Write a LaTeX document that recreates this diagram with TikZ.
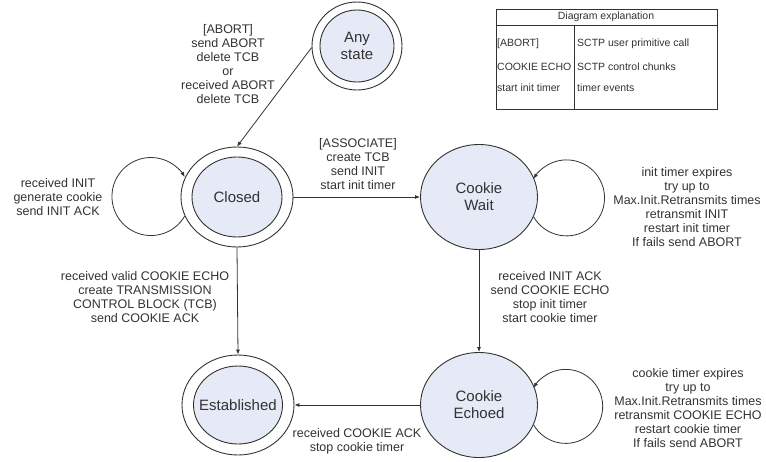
\documentclass[tikz,border=0pt]{standalone}
\usepackage{fontspec}
\setmainfont{Liberation Sans}
\usetikzlibrary{shapes.geometric, arrows.meta}
\definecolor{statefill}{RGB}{230,234,246}
\definecolor{ink}{RGB}{50,50,50}
\begin{document}
\begin{tikzpicture}[x=1pt,y=1pt,
  outerring/.style={ellipse, draw=ink, line width=0.9pt, fill=white, inner sep=0pt},
  innerstate/.style={ellipse, draw=ink, line width=0.9pt, fill=statefill, inner sep=0pt},
  statetext/.style={align=center, text=ink, inner sep=0pt, font=\fontsize{15}{17}\selectfont},
  singlestate/.style={ellipse, draw=ink, line width=0.9pt, fill=statefill, inner sep=0pt, align=center, text=ink, font=\fontsize{15}{17}\selectfont, minimum width=117pt, minimum height=105pt},
  lbl/.style={align=center, text=ink, font=\fontsize{12.5}{14}\selectfont, inner sep=0pt},
  tbl/.style={text=ink, font=\fontsize{10.5}{12}\selectfont, inner sep=0pt, anchor=west},
  arr/.style={draw=ink, line width=0.8pt, -{Latex[length=5pt,width=4pt]}}
]
\useasboundingbox (0,0) rectangle (766,-461);

% states
\node[outerring, minimum width=90pt, minimum height=88pt] (anystate) at (357,-46) {};
\node[innerstate, minimum width=74pt, minimum height=72pt] (anystatein) at (357,-46) {};
\node[statetext] (anystatetxt) at (357,-46) {Any\\state};

\node[outerring, minimum width=112pt, minimum height=100pt] (closed) at (237,-197) {};
\node[innerstate, minimum width=90pt, minimum height=80pt] (closedin) at (237,-197) {};
\node[statetext] (closedtxt) at (237,-197) {Closed};

\node[outerring, minimum width=112pt, minimum height=100pt] (est) at (238,-405) {};
\node[innerstate, minimum width=89pt, minimum height=78pt] (estin) at (238,-405) {};
\node[statetext] (esttxt) at (238,-405) {Established};

\node[singlestate] (wait) at (479,-197) {Cookie\\Wait};
\node[singlestate] (echoed) at (479,-405) {Cookie\\Echoed};

% connectors
\draw[arr] (anystate.182) -- (closed.north);
\draw[arr] (closed.east) -- (wait.west);
\draw[arr] (wait.south) -- (echoed.north);
\draw[arr] (closed.south) -- (est.north);
\draw[arr] (echoed.west) -- (est.east);

% self loops
\draw[arr] (closed.200) arc[start angle=-30, end angle=-330, radius=39];
\draw[arr] (wait.-20) arc[start angle=-150, end angle=150, radius=38];
\draw[arr] (echoed.-20) arc[start angle=-150, end angle=150, radius=37];

% labels
\node[lbl] (abortlbl) at (228,-64) {[ABORT]\\send ABORT\\delete TCB\\or\\received ABORT\\delete TCB};
\node[lbl] (initlbl) at (58,-197) {received INIT\\generate cookie\\send INIT ACK};
\node[lbl] (assoclbl) at (358,-164) {[ASSOCIATE]\\create TCB\\send INIT\\start init timer};
\node[lbl] (waitlooplbl) at (687,-207) {init timer expires\\try up to\\Max.Init.Retransmits times\\retransmit INIT\\restart init timer\\If fails send ABORT};
\node[lbl] (initacklbl) at (550,-297) {received INIT ACK\\send COOKIE ECHO\\stop init timer\\start cookie timer};
\node[lbl] (echolooplbl) at (688,-408) {cookie timer expires\\try up to\\Max.Init.Retransmits times\\retransmit COOKIE ECHO\\restart cookie timer\\If fails send ABORT};
\node[lbl] (validlbl) at (145,-297) {received valid COOKIE ECHO\\create TRANSMISSION\\CONTROL BLOCK (TCB)\\send COOKIE ACK};
\node[lbl] (acklbl) at (357,-441) {received COOKIE ACK\\stop cookie timer};

% explanation table
\draw[ink, line width=0.8pt] (496,-9) rectangle (717,-109);
\draw[ink, line width=0.8pt] (496,-25) -- (717,-25);
\draw[ink, line width=0.8pt] (574,-25) -- (574,-109);
\node[tbl, anchor=center] (thead) at (606,-17) {Diagram explanation};
\node[tbl] (tl1) at (497,-44) {[ABORT]};
\node[tbl] (tl2) at (497,-67) {COOKIE ECHO};
\node[tbl] (tl3) at (497,-88) {start init timer};
\node[tbl] (tr1) at (577,-44) {SCTP user primitive call};
\node[tbl] (tr2) at (577,-67) {SCTP control chunks};
\node[tbl] (tr3) at (577,-88) {timer events};
\end{tikzpicture}
\end{document}
